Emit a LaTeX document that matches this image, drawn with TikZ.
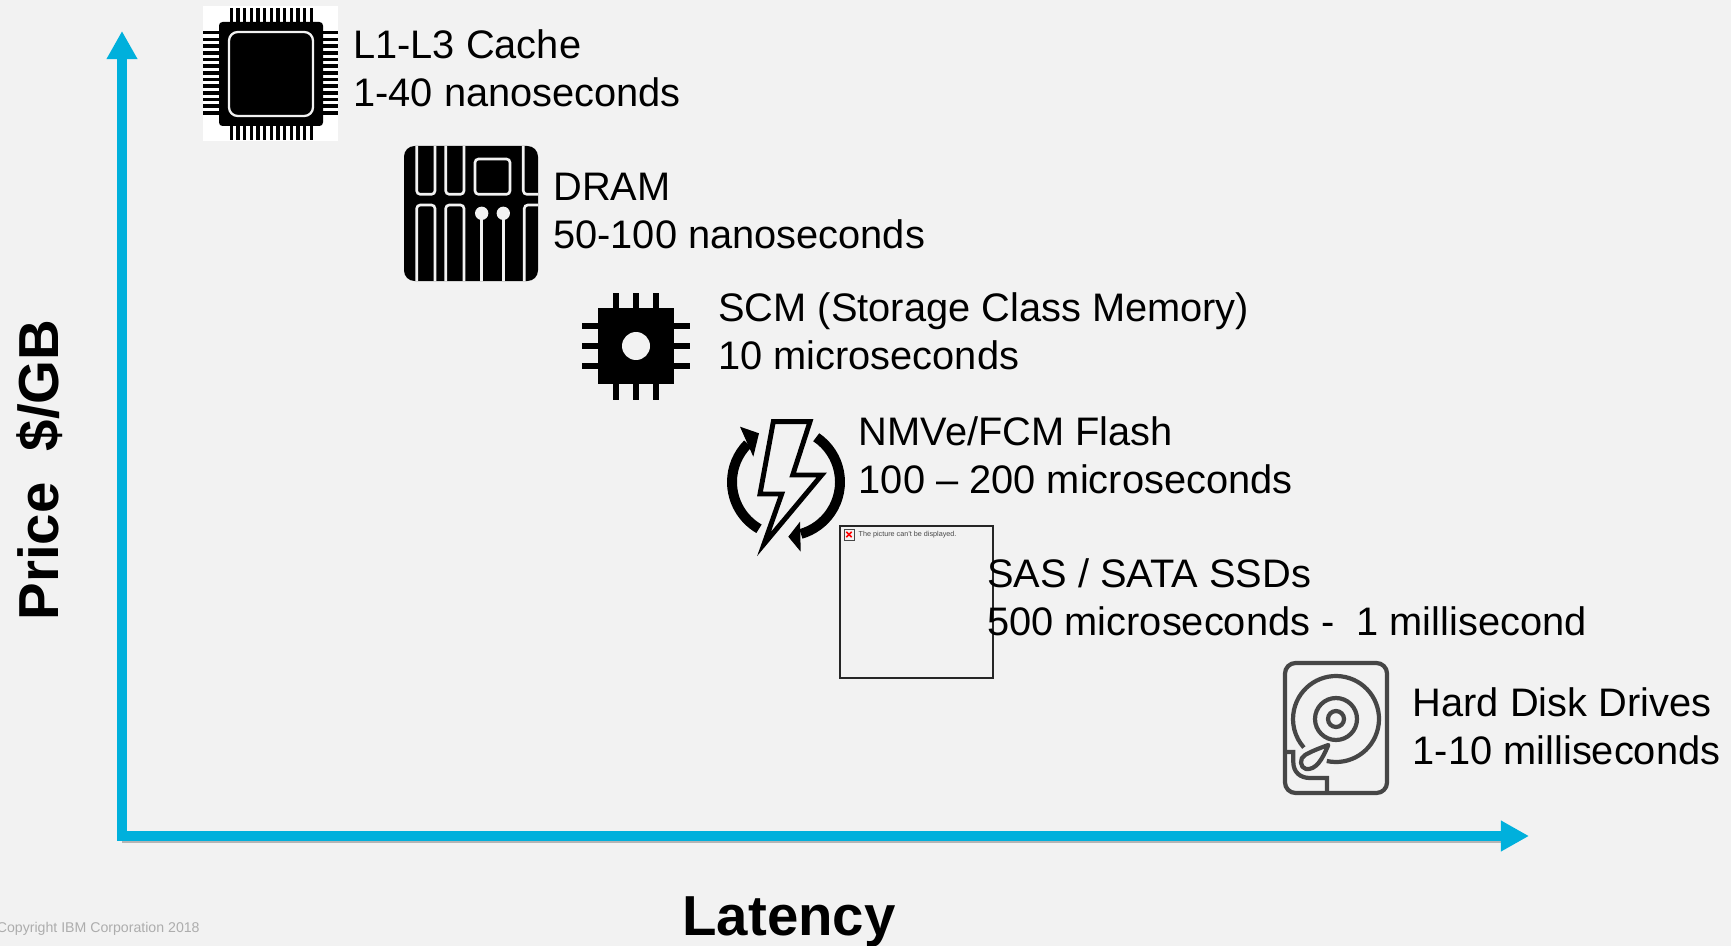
\documentclass[tikz,border=0pt]{standalone}
\usepackage{fontspec}
\setmainfont{Liberation Sans}
\usetikzlibrary{arrows.meta,positioning}
\definecolor{pagebg}{HTML}{F2F2F2}
\definecolor{axisblue}{HTML}{00B0DC}
\definecolor{diskgray}{HTML}{464646}
\tikzset{
  tierlabel/.style={anchor=west, align=left, inner sep=0pt, font=\fontsize{22.65}{27.2}\selectfont},
  axislabel/.style={inner sep=0pt, font=\bfseries\fontsize{32.1}{36}\selectfont},
  axisline/.style={line width=5.67pt, draw=axisblue, -{Triangle[length=16pt, width=16.5pt]}},
  axisshadow/.style={line width=5.67pt, draw=black, opacity=0.25},
  trace/.style={draw=pagebg, line width=1.5pt, rounded corners=2pt},
  disk/.style={draw=diskgray, line width=2.4pt}
}
\begin{document}
\begin{tikzpicture}[x=0.02cm, y=-0.02cm]
\fill[pagebg] (0,0) rectangle (1731,946);
\useasboundingbox (0,0) rectangle (1731,946);
\coordinate (origin) at (122,836);
\coordinate (ytop) at (122,31);
\coordinate (xend) at (1529,836);
\coordinate (shadowcorner) at (122,838);
\coordinate (shadowend) at (1510,838);
\draw[axisshadow] (shadowcorner) -- (shadowend);
\draw[axisline] (origin) -- (ytop);
\draw[axisline] ([xshift=-2.83pt]origin) -- (xend);
% L1-L3 chip
\fill[white] (203,6) rectangle (338,141);
\foreach \i in {0,...,12} {
  \fill[black] ({229.5+6.67*\i},8) rectangle ({233+6.67*\i},140);
  \fill[black] (203,{31+6.67*\i}) rectangle (338,{34.5+6.67*\i});
}
\fill[black, rounded corners=2pt] (219,22) rectangle (323,126);
\draw[pagebg, line width=1.3pt, rounded corners=5pt] (229,32) rectangle (313,116);
% DRAM board
\fill[black, rounded corners=6pt] (404,146) rectangle (538,281);
\draw[trace] (416.7,146) -- (416.7,194.3) -- (435,194.3) -- (435,146);
\draw[trace] (445.7,146) -- (445.7,194.3) -- (464,194.3) -- (464,146);
\draw[trace] (475,159) rectangle (510,194.3);
\draw[trace] (523.3,146) -- (523.3,194.3) -- (538,194.3);
\draw[trace] (416.7,281) -- (416.7,205) -- (435,205) -- (435,281);
\draw[trace] (445.7,281) -- (445.7,205) -- (464,205) -- (464,281);
\draw[trace] (524.3,281) -- (524.3,205) -- (538,205);
\foreach \x in {481.7,503.3} {
  \fill[pagebg] (\x,213.3) circle (3.8pt);
  \draw[draw=pagebg, line width=1.5pt] (\x,213.3) -- (\x,281);
}
% SCM chip
\fill[black] (598,308) rectangle (674,384);
\foreach \d in {-20.4,0,20.4} {
  \fill[black] ({636+\d-3},293) rectangle ({636+\d+3},400);
  \fill[black] (582,{346+\d-3}) rectangle (690,{346+\d+3});
}
\fill[pagebg] (636,346) circle (0.28cm);
% flash
\coordinate (flashc) at (786,482);
\draw[line width=5.67pt] ([shift={(240:1.08cm)}]flashc) arc[start angle=240, end angle=135, radius=1.08cm];
\draw[line width=5.67pt] ([shift={(56:1.08cm)}]flashc) arc[start angle=56, end angle=-74, radius=1.08cm];
\fill[black] (740,426.7) -- (759,433.3) -- (753.3,456.7) -- cycle;
\fill[black] (788.3,536.7) -- (800,521.7) -- (800.7,551.7) -- cycle;
\draw[line width=2.8pt, miter limit=10] (773.3,421.7) -- (810,421.7) -- (792.7,475) -- (821.7,475) -- (764,544) -- (781.7,494) -- (760,494) -- cycle;
% broken picture
\node[draw=black!85, line width=0.6pt, minimum width=3.06cm, minimum height=3.04cm, inner sep=0pt] (brokenpic) at (916.5,602) {};
\node[draw=diskgray, line width=0.4pt, minimum width=0.2cm, minimum height=0.22cm, inner sep=0pt] (brokenicon) at (849,534.5) {};
\draw[red, line width=0.9pt] ([xshift=-1.5pt, yshift=-1.5pt]brokenicon.center) -- ([xshift=1.5pt, yshift=1.5pt]brokenicon.center);
\draw[red, line width=0.9pt] ([xshift=-1.5pt, yshift=1.5pt]brokenicon.center) -- ([xshift=1.5pt, yshift=-1.5pt]brokenicon.center);
\node[right=0.08cm of brokenicon.east, yshift=0.2pt, inner sep=0pt, text=diskgray, font=\fontsize{4.1}{5}\selectfont] (brokentext) {The picture can't be displayed.};
% disk drive
\draw[disk, rounded corners=6pt] (1285,663) rectangle (1387,793);
\coordinate (diskc) at (1336,719);
\draw[disk] ([shift={(257.6:0.86cm)}]diskc) arc[start angle=257.6, end angle=581.6, radius=0.86cm];
\draw[disk] (diskc) circle (0.42cm);
\draw[disk] (diskc) circle (0.16cm);
\draw[disk, line join=round] (1328.3,745) .. controls (1322,760) and (1316,770) .. (1306,769) .. controls (1300,768) and (1299,758) .. (1305,755) .. controls (1312,751) and (1320,748) .. (1328.3,745) -- cycle;
\draw[disk] (1285,752) -- (1293.3,752) -- (1293.3,762) .. controls (1293.3,772) and (1300,778) .. (1310,778) -- (1327,778) -- (1327,793);
% labels
\node[tierlabel] (cache) at (353,68) {L1-L3 Cache\\1-40 nanoseconds};
\node[tierlabel] (dram) at (553,211) {DRAM\\50-100 nanoseconds};
\node[tierlabel] (scm) at (718,331) {SCM (Storage Class Memory)\\10 microseconds};
\node[tierlabel] (flash) at (858.5,455) {NMVe/FCM Flash\\100 – 200 microseconds};
\node[tierlabel] (ssd) at (987,597) {SAS / SATA SSDs\\500 microseconds -\ \ 1 millisecond};
\node[tierlabel] (hdd) at (1412.5,726) {Hard Disk Drives\\1-10 milliseconds};
\node[axislabel, rotate=90] (price) at (40,470) {Price\ \ \$/GB};
\node[axislabel] (latency) at (789,922) {Latency};
\node[anchor=east, inner sep=0pt, text=black!32, font=\fontsize{8.05}{9}\selectfont] (copyright) at (200,929) {Copyright IBM Corporation 2018};
\end{tikzpicture}
\end{document}
